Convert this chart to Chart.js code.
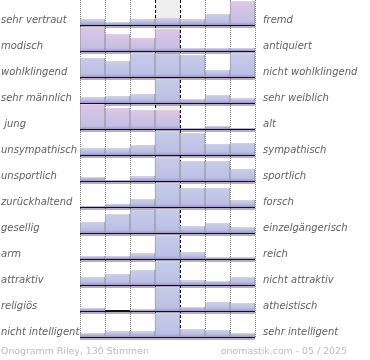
<!DOCTYPE html>
<html>
<head>
<meta charset="utf-8">
<script src="https://cdn.jsdelivr.net/npm/chart.js@4"></script>
<style>
  html, body { margin: 0; padding: 0; background: #fff; }
  #wrap { width: 370px; height: 360px; }
</style>
</head>
<body>
<div id="wrap"><canvas id="onogramm"></canvas></div>
<script>
const columns = ['1', '2', '3', '4', '5', '6', '7'];

const leftLabels = [
    'sehr vertraut', 'modisch', 'wohlklingend', 'sehr männlich', ' jung',
    'unsympathisch', 'unsportlich', 'zurückhaltend', 'gesellig', 'arm',
    'attraktiv', 'religiös', 'nicht intelligent'
];

const rightLabels = [
    'fremd', 'antiquiert', 'nicht wohlklingend', 'sehr weiblich', 'alt',
    'sympathisch', 'sportlich', 'forsch', 'einzelgängerisch', 'reich',
    'nicht attraktiv', 'atheistisch', 'sehr intelligent'
];

// bar heights per row, left to right (row max is 25)
const values = [
    [6, 3, 6, 7, 6, 11, 24],
    [24, 17, 13, 22, 3, 3, 3],
    [19, 16, 24, 23, 22, 7, 24],
    [6, 7, 9, 24, 4, 8, 5],
    [25, 21, 19, 19, 1, 3, 1],
    [7, 7, 10, 24, 22, 11, 12],
    [4, 1, 5, 24, 20, 20, 12],
    [1, 3, 8, 24, 19, 19, 7],
    [11, 19, 23, 24, 7, 10, 6],
    [3, 3, 6, 24, 7, 2, 2],
    [8, 11, 15, 24, 5, 4, 8],
    [3, 0, 2, 24, 4, 9, 8],
    [4, 6, 6, 24, 8, 7, 4]
];

// bars shown in the warmer tone: [row, column]
const warmBars = [[0, 6], [1, 0], [1, 1], [1, 2], [1, 3], [4, 0], [4, 1], [4, 2], [4, 3]];

const rowHeight = 26;
const yMax = values.length * rowHeight - 1;
const baseOf = i => yMax - 25 - rowHeight * i;
const labelTicks = leftLabels.map((_, i) => ({ value: baseOf(i) + 5 }));
const baseTicks = leftLabels.map((_, i) => ({ value: baseOf(i) }));
const shadowTicks = leftLabels.map((_, i) => ({ value: baseOf(i) - 2 }));

function isWarm(row, col) {
    return warmBars.some(b => b[0] === row && b[1] === col);
}

function barFill(context) {
    const chart = context.chart;
    const y = chart.scales.y;
    if (!y || !chart.chartArea) return '#c3c8e8';
    const row = context.datasetIndex;
    const h = values[row][context.dataIndex];
    const bottom = y.getPixelForValue(baseOf(row));
    const top = y.getPixelForValue(baseOf(row) + h);
    const span = Math.max(bottom - top, 1);
    const g = chart.ctx.createLinearGradient(0, top, 0, bottom);
    const warm = isWarm(row, context.dataIndex);
    const edge = Math.min(1.5 / span, 0.3);
    g.addColorStop(0, warm ? '#e2d2ea' : '#d2d5ea');
    g.addColorStop(edge, warm ? '#dcc6e6' : '#c7cbe9');
    g.addColorStop(Math.max(1 - 3 / span, edge), warm ? '#c3bfe3' : '#bbbfe4');
    g.addColorStop(1, '#9f97cc');
    return g;
}

const datasets = values.map((row, i) => ({
    label: leftLabels[i],
    data: row.map(v => [baseOf(i), baseOf(i) + v]),
    backgroundColor: barFill,
    borderColor: '#9b9bab',
    borderWidth: { left: 1, right: 1, top: 0, bottom: 0 },
    borderSkipped: false,
    xAxisID: 'x',
    yAxisID: 'y'
}));

const middleColumn = {
    id: 'middleColumn',
    beforeDraw(chart) {
        const x = chart.scales.x;
        const area = chart.chartArea;
        const half = x.width / columns.length / 2;
        const cx = x.getPixelForValue(3);
        chart.ctx.save();
        chart.ctx.fillStyle = '#eeeeee';
        chart.ctx.fillRect(cx - half, area.top, half * 2, area.bottom - area.top);
        chart.ctx.restore();
    }
};

const footer = {
    id: 'footer',
    afterDraw(chart) {
        const ctx = chart.ctx;
        ctx.save();
        ctx.font = '9.4px "DejaVu Sans"';
        ctx.fillStyle = '#bbbbbb';
        ctx.textBaseline = 'middle';
        ctx.textAlign = 'left';
        ctx.fillText('Onogramm Riley, 130 Stimmen', 1, 352);
        ctx.textAlign = 'right';
        ctx.fillText('onomastik.com - 05 / 2025', 347, 352);
        ctx.restore();
    }
};

const labelFont = { family: 'DejaVu Sans', size: 10, style: 'italic' };

new Chart(document.getElementById('onogramm'), {
    type: 'bar',
    data: { labels: columns, datasets: datasets },
    plugins: [middleColumn, footer],
    options: {
        responsive: true,
        maintainAspectRatio: false,
        animation: false,
        layout: { padding: { left: 1, top: 0, right: 0, bottom: 0 } },
        datasets: { bar: { grouped: false, barPercentage: 1, categoryPercentage: 1 } },
        plugins: { legend: { display: false }, tooltip: { enabled: false } },
        scales: {
            x: {
                type: 'category',
                offset: true,
                ticks: { display: false },
                border: {
                    display: false,
                    dash: [1, 1]
                },
                grid: {
                    offset: true,
                    drawTicks: false,
                    lineWidth: 1,
                    color: ctx => (ctx.index === 3 || ctx.index === 4) ? 'rgba(0,0,0,0)' : '#7a7a7a'
                },
                afterFit: s => { s.height = 23; }
            },
            x2: {
                type: 'category',
                position: 'bottom',
                offset: true,
                z: 1,
                ticks: { display: false },
                border: { display: false, dash: [3, 2] },
                grid: {
                    offset: true,
                    drawTicks: false,
                    lineWidth: 1,
                    color: ctx => (ctx.index === 3 || ctx.index === 4) ? '#000' : 'rgba(0,0,0,0)'
                },
                afterFit: s => { s.height = 0; }
            },
            y: {
                type: 'linear',
                position: 'left',
                min: 0,
                max: yMax,
                grid: { display: false },
                border: { display: false },
                afterBuildTicks: s => { s.ticks = labelTicks.map(t => ({ ...t })); },
                ticks: {
                    autoSkip: false,
                    crossAlign: 'far',
                    color: '#606060',
                    font: labelFont,
                    callback: (v, i) => leftLabels[i]
                },
                afterFit: s => { s.width = 79; s.paddingTop = 0; s.paddingBottom = 0; }
            },
            yRight: {
                type: 'linear',
                position: 'right',
                min: 0,
                max: yMax,
                grid: { display: false, drawTicks: false },
                border: { display: false },
                afterBuildTicks: s => { s.ticks = labelTicks.map(t => ({ ...t })); },
                ticks: {
                    autoSkip: false,
                    crossAlign: 'near',
                    padding: 8,
                    color: '#606060',
                    font: labelFont,
                    callback: (v, i) => rightLabels[i]
                },
                afterFit: s => { s.width = 115; s.paddingTop = 0; s.paddingBottom = 0; }
            },
            yShadow: {
                type: 'linear',
                position: 'right',
                min: 0,
                max: yMax,
                border: { display: false },
                grid: { drawTicks: false, color: 'rgba(0,0,0,0.3)', lineWidth: 2 },
                ticks: { display: false },
                afterBuildTicks: s => { s.ticks = shadowTicks.map(t => ({ ...t })); },
                afterFit: s => { s.width = 0; s.paddingTop = 0; s.paddingBottom = 0; }
            },
            yBase: {
                type: 'linear',
                position: 'right',
                min: 0,
                max: yMax,
                z: 1,
                border: { display: false },
                grid: { drawTicks: false, color: '#111', lineWidth: 2 },
                ticks: { display: false },
                afterBuildTicks: s => { s.ticks = baseTicks.map(t => ({ ...t })); },
                afterFit: s => { s.width = 0; s.paddingTop = 0; s.paddingBottom = 0; }
            }
        }
    }
});
</script>
</body>
</html>
